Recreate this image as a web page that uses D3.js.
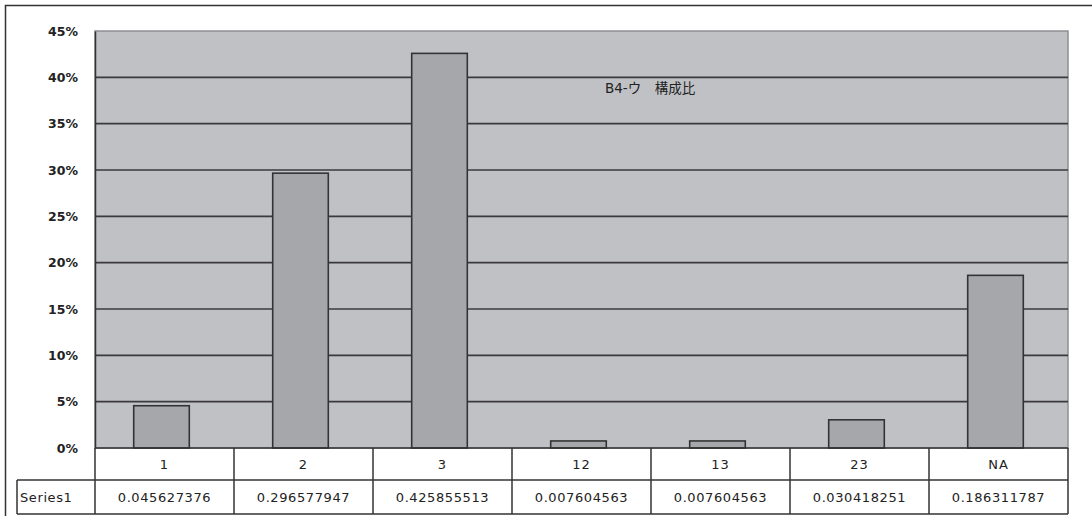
<!DOCTYPE html>
<html>
<head>
<meta charset="utf-8">
<script src="https://cdn.jsdelivr.net/npm/d3@7"></script>
<style>
  html, body { margin: 0; padding: 0; background: #fff; }
  svg { display: block; }
  text { font-family: "DejaVu Sans", "Noto Sans CJK JP", sans-serif; fill: #222; }
</style>
</head>
<body>
<svg id="chart" width="1092" height="516"></svg>
<script>
// Composition ratio per answer category (B4-ウ)
const categories = ["1", "2", "3", "12", "13", "23", "NA"];
const series1 = [0.045627376, 0.296577947, 0.425855513, 0.007604563, 0.007604563, 0.030418251, 0.186311787];
const seriesName = "Series1";
const yTicks = [0, 0.05, 0.10, 0.15, 0.20, 0.25, 0.30, 0.35, 0.40, 0.45];
const chartTitle = "B4-ウ\u3000構成比";

const svg = d3.select("#chart");

const plot = { left: 95, right: 1068, top: 31, bottom: 448 };
const tableRow1 = { top: 448, bottom: 480 };
const tableRow2 = { top: 480, bottom: 514, left: 17 };

const x = d3.scaleBand().domain(categories).range([plot.left, plot.right]).paddingInner(0.6).paddingOuter(0.3);
const xCell = d3.scaleBand().domain(categories).range([plot.left, plot.right]).padding(0);
const y = d3.scaleLinear().domain([0, 0.45]).range([plot.bottom, plot.top]);

// outer chart frame
svg.append("rect")
  .attr("x", 5.5).attr("y", 5.5).attr("width", 1100).attr("height", 600)
  .attr("fill", "none").attr("stroke", "#333").attr("stroke-width", 1.5);

// plot background
svg.append("rect")
  .attr("x", plot.left).attr("y", plot.top)
  .attr("width", plot.right - plot.left).attr("height", plot.bottom - plot.top)
  .attr("fill", "#c0c1c5").attr("stroke", "#8e8f93").attr("stroke-width", 1.5);

// horizontal gridlines
svg.append("g").selectAll("line")
  .data(yTicks.filter(d => d > 0 && d < 0.45))
  .join("line")
  .attr("x1", plot.left).attr("x2", plot.right)
  .attr("y1", d => y(d)).attr("y2", d => y(d))
  .attr("stroke", "#3a3a3c").attr("stroke-width", 1.6);

// y axis
const yAxis = d3.axisLeft(y).tickValues(yTicks)
  .tickFormat(d => Math.round(d * 100) + "%").tickSize(0).tickPadding(17);
const gy = svg.append("g").attr("transform", `translate(${plot.left},0)`).call(yAxis);
gy.select(".domain").attr("stroke", "#333").attr("stroke-width", 1.5);
gy.selectAll("text").attr("font-size", 12.5).attr("font-weight", "bold").attr("fill", "#333");

// bars
svg.append("g").selectAll("rect")
  .data(series1)
  .join("rect")
  .attr("x", (d, i) => x(categories[i]) - 3)
  .attr("width", x.bandwidth())
  .attr("y", d => y(d))
  .attr("height", d => y(0) - y(d))
  .attr("fill", "#a6a7ab").attr("stroke", "#333").attr("stroke-width", 1.6);

// title inside plot
svg.append("text")
  .attr("x", 605).attr("y", 93)
  .attr("font-size", 13.5).attr("fill", "#222")
  .text(chartTitle);

// data table
const tbl = svg.append("g").attr("stroke", "#333").attr("stroke-width", 1.5).attr("fill", "none");
tbl.append("line").attr("x1", plot.left).attr("x2", plot.right).attr("y1", tableRow1.top).attr("y2", tableRow1.top);
tbl.append("line").attr("x1", tableRow2.left).attr("x2", plot.right).attr("y1", tableRow2.top).attr("y2", tableRow2.top);
tbl.append("line").attr("x1", tableRow2.left).attr("x2", plot.right).attr("y1", tableRow2.bottom).attr("y2", tableRow2.bottom);
tbl.append("line").attr("x1", tableRow2.left).attr("x2", tableRow2.left).attr("y1", tableRow2.top).attr("y2", tableRow2.bottom);
tbl.append("line").attr("x1", plot.left).attr("x2", plot.left).attr("y1", tableRow1.top).attr("y2", tableRow2.bottom);
tbl.selectAll(".sep").data(categories).join("line")
  .attr("x1", d => xCell(d) + xCell.bandwidth()).attr("x2", d => xCell(d) + xCell.bandwidth())
  .attr("y1", tableRow1.top).attr("y2", tableRow2.bottom);

// category row
svg.append("g").selectAll("text").data(categories).join("text")
  .attr("x", d => xCell(d) + xCell.bandwidth() / 2)
  .attr("y", (tableRow1.top + tableRow1.bottom) / 2 + 5)
  .attr("text-anchor", "middle").attr("font-size", 13).attr("letter-spacing", 1)
  .text(d => d);

// value row
svg.append("g").selectAll("text").data(series1).join("text")
  .attr("x", (d, i) => xCell(categories[i]) + xCell.bandwidth() / 2)
  .attr("y", (tableRow2.top + tableRow2.bottom) / 2 + 5)
  .attr("text-anchor", "middle").attr("font-size", 13).attr("letter-spacing", 0.6)
  .text(d => d.toFixed(9));

svg.append("text")
  .attr("x", tableRow2.left + 3).attr("y", (tableRow2.top + tableRow2.bottom) / 2 + 5)
  .attr("font-size", 13).attr("letter-spacing", 0.6)
  .text(seriesName);
</script>
</body>
</html>
